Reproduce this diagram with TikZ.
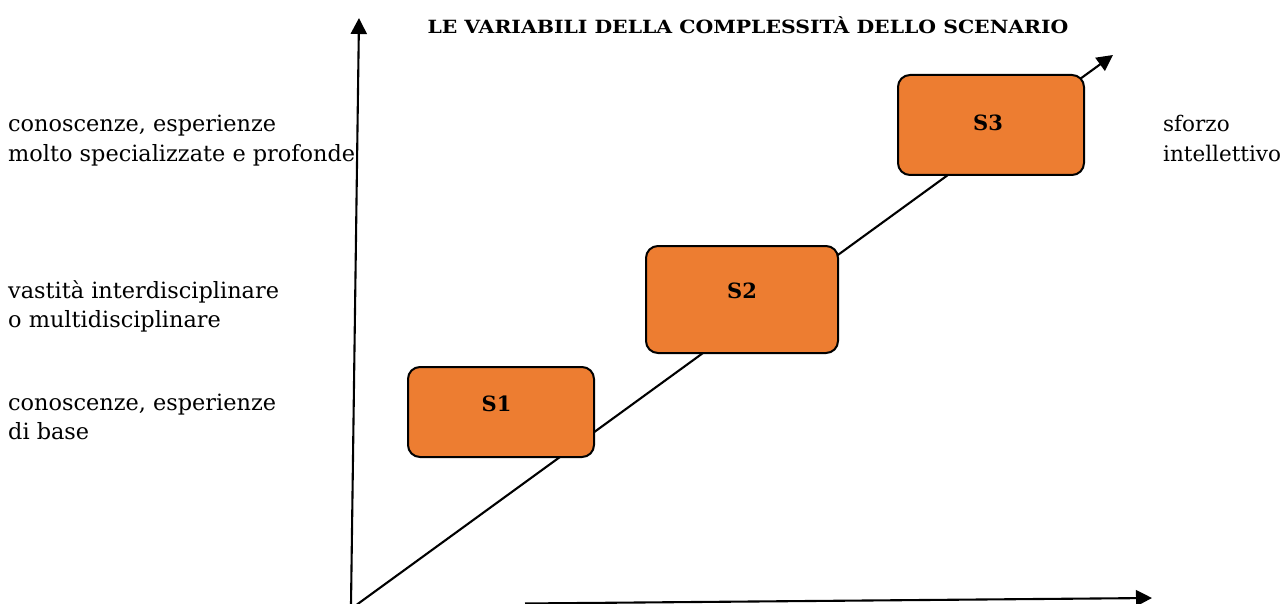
\documentclass[tikz,border=0pt]{standalone}
\usepackage{fontspec}
\setmainfont{DejaVu Serif}
\newfontfamily\titlefont[FakeStretch=1.12]{DejaVu Serif}
\usetikzlibrary{arrows.meta}
\definecolor{sorange}{HTML}{ED7D31}
\begin{document}
\begin{tikzpicture}[x=1pt,y=-1pt,
  axis/.style={line width=2.1pt,-{Triangle[length=16pt,width=16pt]}},
  sbox/.style={draw=black,line width=2pt,fill=sorange,rounded corners=12pt,inner sep=0pt},
  stxt/.style={inner sep=0pt,font=\bfseries\fontsize{21}{24}\selectfont},
  lbl/.style={anchor=base west,inner sep=0pt,font=\fontsize{22.4}{29.5}\selectfont},
  rlbl/.style={anchor=base west,inner sep=0pt,font=\fontsize{21.5}{29.5}\selectfont},
  ttl/.style={anchor=base,inner sep=0pt,font=\titlefont\bfseries\fontsize{18.2}{20}\selectfont}]
\useasboundingbox (0,0) rectangle (1282,604);
% axis end points
\coordinate (vb) at (351,604.5);
\coordinate (vt) at (359,18);
\coordinate (hb) at (525,603.5);
\coordinate (ht) at (1152,598);
\coordinate (db) at (357,604.5);
\coordinate (dt) at (1113,55);
% axes
\draw[axis] (vb) -- (vt);
\draw[axis] (hb) -- (ht);
\draw[axis] (db) -- (dt);
% boxes
\node[sbox,minimum width=186pt,minimum height=90pt] (s1) at (501,412) {};
\node[sbox,minimum width=192pt,minimum height=107pt] (s2) at (742,299.5) {};
\node[sbox,minimum width=186pt,minimum height=100pt] (s3) at (991,125) {};
\node[stxt] (t1) at (496.5,404) {S1};
\node[stxt] (t2) at (742,291) {S2};
\node[stxt] (t3) at (988,122.5) {S3};
% title
\node[ttl] (title) at (748,34) {LE VARIABILI DELLA COMPLESSITÀ DELLO SCENARIO};
% left labels
\node[lbl] (a1) at (8,132) {conoscenze, esperienze};
\node[lbl] (a2) at (8,161.5) {molto specializzate e profonde};
\node[lbl] (b1) at (8,298) {vastità interdisciplinare};
\node[lbl] (b2) at (8,327.5) {o multidisciplinare};
\node[lbl] (c1) at (8,410) {conoscenze, esperienze};
\node[lbl] (c2) at (8,439.5) {di base};
% right labels
\node[rlbl] (r1) at (1163,132) {sforzo};
\node[rlbl] (r2) at (1163,161.5) {intellettivo};
\end{tikzpicture}
\end{document}
